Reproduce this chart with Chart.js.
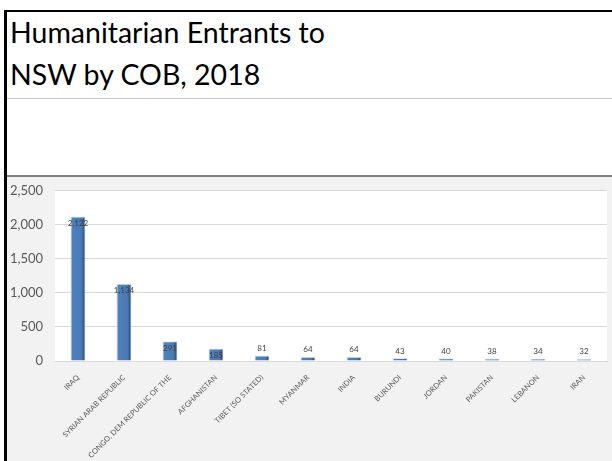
<!DOCTYPE html>
<html>
<head>
<meta charset="utf-8">
<script src="https://cdn.jsdelivr.net/npm/chart.js@4.4.1/dist/chart.umd.min.js"></script>
<style>
  html, body { margin: 0; padding: 0; background: #fff; }
  #slide { position: relative; width: 612px; height: 461px; overflow: hidden; background: #fff; }
  .edge { position: absolute; background: #000; }
  #title { position: absolute; left: 10px; top: 11px; font-family: Lato, 'Open Sans', sans-serif; font-size: 28.5px; line-height: 42px; color: #000; white-space: nowrap; }
  #rule1 { position: absolute; left: 7px; top: 98px; width: 605px; height: 1px; background: #c4c4dc; }
  #rule2 { position: absolute; left: 7px; top: 175px; width: 605px; height: 2px; background: #7f7f7f; }
  #wrap { position: absolute; left: 7px; top: 177px; width: 605px; height: 284px; background: #f2f2f2; overflow: hidden; }
  #chart { display: block; margin-top: -6px; }
</style>
</head>
<body>
<div id="slide">
  <div class="edge" style="left:4px;top:10px;width:608px;height:2px"></div>
  <div class="edge" style="left:4px;top:10px;width:3px;height:451px"></div>
  <div id="title">Humanitarian Entrants to<br>NSW by COB, 2018</div>
  <div id="rule1"></div>
  <div id="rule2"></div>
  <div id="wrap"><canvas id="chart" width="605" height="290"></canvas></div>
</div>
<script>
// values
const countries = ['IRAQ', 'SYRIAN ARAB REPUBLIC', 'CONGO, DEM REPUBLIC OF THE', 'AFGHANISTAN', 'TIBET (SO STATED)',
  'MYANMAR', 'INDIA', 'BURUNDI', 'JORDAN', 'PAKISTAN', 'LEBANON', 'IRAN'];
const entrants = [2122, 1134, 291, 185, 81, 64, 64, 43, 40, 38, 34, 32];
const yTicks = [0, 500, 1000, 1500, 2000, 2500];

const BAR_FRAC = 0.33;
const fmt = v => v.toLocaleString('en-US');

function barFill(context) {
  const chart = context.chart;
  const scale = chart.scales.x;
  if (!scale || context.dataIndex === undefined) return '#4f81bd';
  const x = scale.getPixelForValue(context.dataIndex);
  const half = scale.width / countries.length * BAR_FRAC / 2;
  if (!isFinite(x) || !isFinite(half) || half <= 0) return '#4f81bd';
  const g = chart.ctx.createLinearGradient(x - half, 0, x + half, 0);
  g.addColorStop(0, '#7ea6d8');
  g.addColorStop(0.1, '#4f81bd');
  g.addColorStop(0.72, '#4a7ab5');
  g.addColorStop(1, '#243f66');
  return g;
}

const plotBackground = {
  id: 'plotBackground',
  beforeDraw(chart) {
    const { ctx, chartArea: a } = chart;
    ctx.save();
    ctx.fillStyle = '#ffffff';
    ctx.fillRect(a.left, a.top, a.right - a.left, a.bottom - a.top);
    ctx.restore();
  }
};

const valueLabels = {
  id: 'valueLabels',
  afterDatasetsDraw(chart) {
    const ctx = chart.ctx;
    const meta = chart.getDatasetMeta(0);
    ctx.save();
    ctx.font = '8px Lato, sans-serif';
    ctx.fillStyle = '#404040';
    ctx.textAlign = 'center';
    meta.data.forEach((bar, i) => {
      const h = bar.base - bar.y;
      if (h > 10) {
        ctx.textBaseline = 'top';
        ctx.fillText(fmt(entrants[i]), bar.x, bar.y + 3);
      } else {
        ctx.textBaseline = 'bottom';
        ctx.fillText(fmt(entrants[i]), bar.x, bar.y - 3);
      }
    });
    ctx.restore();
  }
};

const chart = new Chart(document.getElementById('chart'), {
  type: 'bar',
  data: {
    labels: countries,
    datasets: [{
      data: entrants,
      backgroundColor: barFill,
      borderColor: '#dce6f2',
      borderWidth: 1,
      barPercentage: BAR_FRAC,
      categoryPercentage: 1
    }]
  },
  options: {
    responsive: false,
    animation: false,
    events: [],
    layout: { padding: { top: 0, right: 5, left: 0, bottom: 0 } },
    plugins: { legend: { display: false }, tooltip: { enabled: false }, title: { display: false } },
    scales: {
      x: {
        grid: { display: false },
        border: { color: '#d9d9d9' },
        ticks: { color: '#595959', font: { family: 'Lato, sans-serif', size: 7.5 }, minRotation: 45, maxRotation: 45, autoSkip: false, padding: 4 },
        afterFit: scale => { scale.height = 100; }
      },
      y: {
        min: 0,
        max: 2500,
        afterBuildTicks: scale => { scale.ticks = yTicks.map(v => ({ value: v })); },
        grid: { color: '#d9d9d9', drawTicks: false },
        border: { display: false },
        ticks: { color: '#595959', font: { family: 'Lato, sans-serif', size: 13 }, padding: 12, callback: v => fmt(v) },
        afterFit: scale => { scale.width = 48; }
      }
    }
  },
  plugins: [plotBackground, valueLabels]
});
// second pass so the gradient sees laid-out scales
chart.update();
</script>
</body>
</html>
